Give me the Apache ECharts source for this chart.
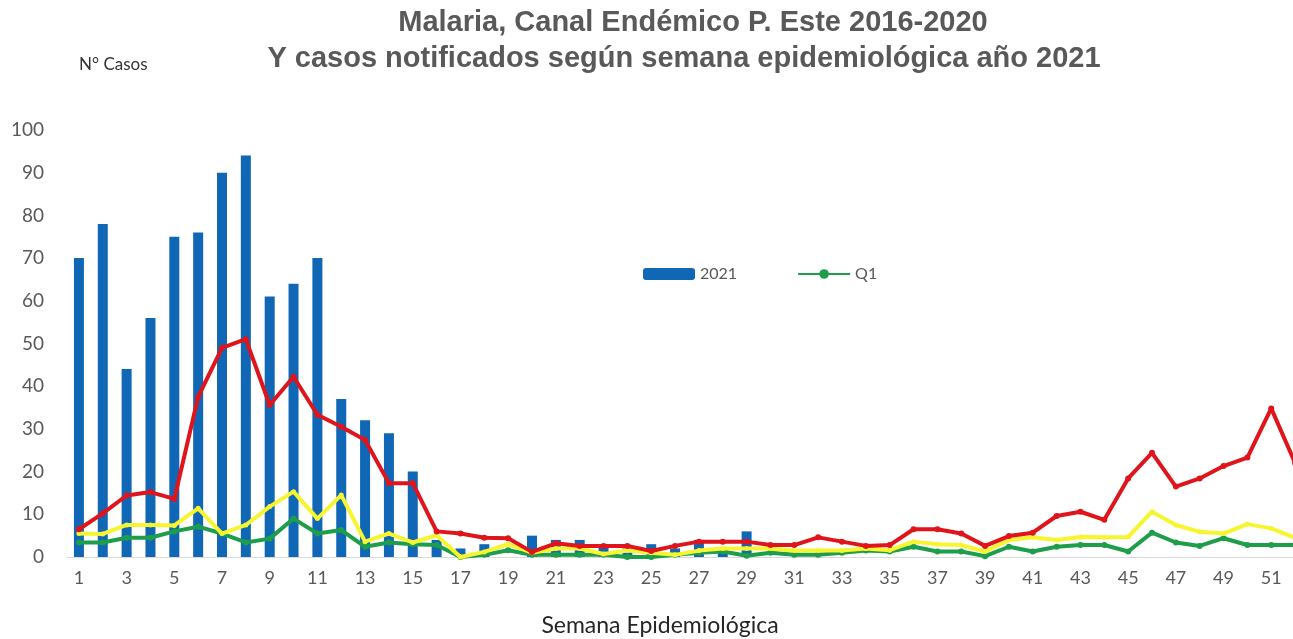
<!DOCTYPE html>
<html>
<head>
<meta charset="utf-8">
<script src="https://cdn.jsdelivr.net/npm/echarts@6/dist/echarts.min.js"></script>
<style>html,body{margin:0;padding:0;background:#fff;overflow:hidden}#c{width:1320px;height:639px}</style>
</head>
<body>
<div id="c"></div>
<script>
const weeks = Array.from({length: 52}, (_, i) => String(i + 1));
const yTicks = [0, 10, 20, 30, 40, 50, 60, 70, 80, 90, 100];
const cases2021 = [70, 78, 44, 56, 75, 76, 90, 94, 61, 64, 70, 37, 32, 29, 20, 4, 2, 3, 0, 5, 4, 4, 3, 2, 3, 2, 4, 2, 6,
  null, null, null, null, null, null, null, null, null, null, null, null, null, null, null, null, null, null, null, null, null, null, null];
const q3 = [6.5, 10.2, 14.4, 15.2, 13.6, 37.5, 49, 51, 35.6, 42.2, 33.3, 30.5, 27.4, 17.3, 17.3, 6, 5.5, 4.5, 4.4, 1.2,
  3.2, 2.6, 2.6, 2.6, 1.4, 2.6, 3.6, 3.6, 3.6, 2.8, 2.8, 4.6, 3.6, 2.6, 2.8, 6.5, 6.5, 5.5, 2.6, 4.9,
  5.7, 9.6, 10.6, 8.7, 18.4, 24.4, 16.5, 18.4, 21.3, 23.3, 34.8, 22];
const mediana = [5.5, 5.4, 7.5, 7.5, 7.4, 11.4, 5.5, 7.5, 11.8, 15.3, 9, 14.5, 3.6, 5.5, 3.4, 5.1, 0, 1.2, 3, 1,
  2, 2, 0.7, 1.5, 1, 0.5, 1.5, 2, 2, 2, 1.5, 1.5, 1.5, 2, 1.6, 3.6, 3, 2.8, 1.3, 4,
  4.6, 4, 4.7, 4.6, 4.7, 10.6, 7.5, 5.9, 5.5, 7.7, 6.7, 4.5];
const q1 = [3.4, 3.4, 4.5, 4.5, 6, 7.1, 5.5, 3.4, 4.3, 9, 5.5, 6.3, 2.4, 3.4, 3, 2.8, 0, 0.5, 1.6, 0.5,
  0.5, 0.5, 0.5, 0, 0, 0.5, 1, 1.3, 0.3, 1, 0.5, 0.5, 1, 1.5, 1.3, 2.4, 1.3, 1.3, 0.2, 2.4,
  1.3, 2.4, 2.8, 2.8, 1.3, 5.7, 3.4, 2.6, 4.4, 2.8, 2.8, 2.8];

const chart = echarts.init(document.getElementById('c'));
const lab = '#595959';
chart.setOption({
  animation: false,
  backgroundColor: '#ffffff',
  title: [
    {text: 'Malaria, Canal Endémico P. Este 2016-2020', left: 688, top: 3, textAlign: 'center',
     textStyle: {fontFamily: 'Liberation Sans', fontWeight: 'bold', fontSize: 29, color: '#595959'}},
    {text: 'Y casos notificados según semana epidemiológica año 2021', left: 679, top: 39, textAlign: 'center',
     textStyle: {fontFamily: 'Liberation Sans', fontWeight: 'bold', fontSize: 29, color: '#595959'}},
    {text: 'N° Casos', left: 74, top: 51,
     textStyle: {fontFamily: 'Lato', fontWeight: 'normal', fontSize: 17, color: '#333333'}},
    {text: 'Semana Epidemiológica', left: 655, top: 609, textAlign: 'center',
     textStyle: {fontFamily: 'Lato', fontWeight: 'normal', fontSize: 23, color: '#262626'}}
  ],
  legend: {
    data: ['2021', 'Q1'],
    left: 638, top: 261,
    itemGap: 60, itemWidth: 52, itemHeight: 12,
    textStyle: {fontFamily: 'Lato', fontSize: 16, color: lab}
  },
  grid: {left: 67, width: 1240, top: 130, bottom: 82},
  xAxis: {
    type: 'category', data: weeks, boundaryGap: true,
    axisLine: {lineStyle: {color: '#d9d9d9', width: 1}},
    axisTick: {show: false},
    axisLabel: {interval: 1, color: lab, fontFamily: 'Lato', fontSize: 18, margin: 12}
  },
  yAxis: {
    type: 'value', min: yTicks[0], max: yTicks[yTicks.length - 1], interval: 10,
    splitLine: {show: false},
    axisLine: {show: false}, axisTick: {show: false},
    axisLabel: {color: lab, fontFamily: 'Lato', fontSize: 19, margin: 23}
  },
  series: [
    {name: '2021', type: 'bar', data: cases2021, barWidth: 10, itemStyle: {color: '#0F67B5'}, z: 1},
    {name: 'Q3', type: 'line', data: q3, symbol: 'circle', symbolSize: 6,
     lineStyle: {color: '#E0141B', width: 4}, itemStyle: {color: '#E0141B'}, z: 5},
    {name: 'Mediana', type: 'line', data: mediana, symbol: 'circle', symbolSize: 5,
     lineStyle: {color: '#F7F530', width: 4}, itemStyle: {color: '#F7F530'}, z: 4},
    {name: 'Q1', type: 'line', data: q1, symbol: 'circle', symbolSize: 6,
     lineStyle: {color: '#1E9E4A', width: 4}, itemStyle: {color: '#1E9E4A'}, z: 3}
  ]
});
</script>
</body>
</html>
